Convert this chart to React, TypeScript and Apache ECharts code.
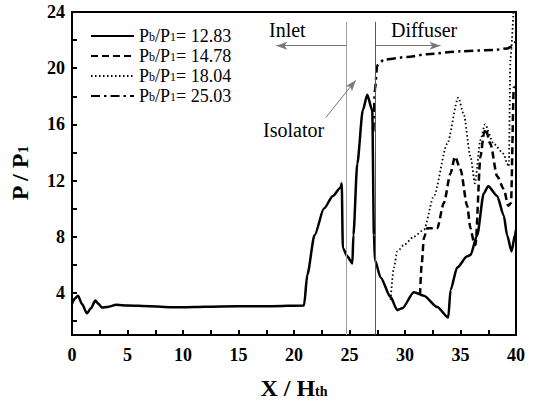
import React, { useEffect, useRef } from "react";
import * as echarts from "echarts";

const solidX = [0, 0.25, 0.54, 0.9, 1.35, 1.7, 2.1, 2.4, 2.7, 3.2, 4.0, 5, 7, 9, 10, 12, 15, 18, 20.9, 21.2, 21.85, 22.7, 23.5, 24.2, 24.3, 24.4, 24.8, 25.26, 25.35, 25.7, 26.2, 26.6, 27.05, 27.2, 27.3, 27.8, 28.7, 29.3, 29.75, 30.8, 31.7, 32.9, 33.9, 34.1, 34.7, 35.6, 35.9, 36.5, 37.1, 37.5, 38.3, 38.9, 39.2, 39.6, 39.9, 40];
const solidY = [3.2, 3.6, 3.8, 3.2, 2.55, 2.9, 3.45, 3.2, 2.95, 3.0, 3.15, 3.1, 3.05, 2.98, 2.98, 3.02, 3.05, 3.05, 3.1, 5.3, 8.1, 10.0, 10.9, 11.5, 11.8, 7.2, 6.6, 6.1, 8.1, 13.2, 17.0, 18.1, 17.0, 8.1, 6.3, 5.1, 3.7, 2.77, 2.9, 4.05, 3.8, 3.0, 2.25, 4.2, 5.8, 6.6, 6.7, 8.1, 11.1, 11.6, 10.9, 9.5, 8.1, 6.95, 8.1, 8.5];

const dashX = [31.35, 31.5, 31.7, 32.0, 32.9, 33.5, 34.1, 34.5, 35.0, 35.6, 35.9, 36.2, 36.35, 36.8, 37.1, 37.25, 37.7, 38.3, 38.9, 39.3, 39.55, 39.8, 40];
const dashY = [3.85, 6.0, 7.9, 8.6, 8.6, 10.4, 12.5, 13.7, 12.8, 10.2, 8.6, 7.65, 7.4, 13.7, 15.3, 15.7, 14.6, 12.3, 11.4, 10.2, 10.4, 18.6, 18.7];

const dotX = [28.7, 29.0, 29.3, 29.9, 30.8, 31.7, 32.6, 33.8, 34.8, 35.3, 35.9, 36.3, 36.8, 37.2, 38.0, 38.9, 39.2, 39.35, 39.5, 39.8];
const dotY = [3.5, 5.8, 6.95, 7.4, 8.0, 8.5, 10.9, 14.6, 17.9, 16.7, 13.7, 11.8, 14.9, 16.0, 14.6, 13.9, 13.2, 13.0, 20.7, 24.5];

const dashDotX = [27.15, 27.3, 27.5, 28.1, 30.2, 32, 35, 38, 39.2, 39.5, 40];
const dashDotY = [15.5, 18.5, 20.2, 20.6, 20.8, 21.0, 21.2, 21.3, 21.4, 21.5, 21.9];

const seriesNames = ["12.83", "14.78", "18.04", "25.03"];
const xTicks = [0, 2.5, 5, 7.5, 10, 12.5, 15, 17.5, 20, 22.5, 25, 27.5, 30, 32.5, 35, 37.5, 40];
const xLabels = [0, 5, 10, 15, 20, 25, 30, 35, 40];
const yTicks = [2, 4, 6, 8, 10, 12, 14, 16, 18, 20, 22, 24];
const yLabels = [4, 8, 12, 16, 20, 24];

const inletLineX = 24.75;
const isolatorLineX = 27.3;
const zoneLineTop = 23.3;
const arrowY = 21.6;
const inletArrowEnd = 18.4;
const diffuserArrowEnd = 33.2;
const isoArrowFrom = [22.87, 16.49];
const isoArrowTo = [25.56, 19.14];

const zip = (xs: number[], ys: number[]) => xs.map((x, i) => [x, ys[i]]);

const FONT = "'Liberation Serif', 'Times New Roman', serif";

export default function App() {
  const ref = useRef<HTMLDivElement>(null);
  useEffect(() => {
    if (!ref.current) return;
    const chart = echarts.init(ref.current, null, { renderer: "svg" });
    const mk = (name: string, data: number[][], type: any, width: number) => ({
      name,
      type: "line",
      data,
      symbol: "none",
      smooth: 0.25,
      smoothMonotone: "x",
      clip: true,
      lineStyle: { color: "#000", width, type },
      itemStyle: { color: "#000" },
    });
    const titleStyle = {
      fontFamily: FONT,
      fontSize: 24,
      fontWeight: "bold",
      color: "#000",
      rich: { s: { fontFamily: FONT, fontSize: 14, fontWeight: "bold", color: "#000", verticalAlign: "bottom", padding: [0, 0, 2, 0] } },
    };
    chart.setOption({
      animation: false,
      backgroundColor: "#fff",
      textStyle: { fontFamily: FONT },
      grid: {
        left: 70,
        right: 18,
        top: 12,
        bottom: 63,
        show: true,
        borderColor: "#000",
        borderWidth: 2,
        backgroundColor: "transparent",
      },
      legend: {
        orient: "vertical",
        left: 90,
        top: 27,
        padding: 0,
        itemWidth: 43,
        itemHeight: 14,
        itemGap: 2,
        data: seriesNames,
        itemStyle: { opacity: 0, borderWidth: 0 },
        formatter: (n: string) => `{n|P}{s|b}{n|/P}{s|1}{n|= ${n}}`,
        textStyle: {
          fontFamily: FONT,
          color: "#000",
          fontSize: 18,
          rich: {
            n: { fontFamily: FONT, fontSize: 18, color: "#000" },
            s: { fontFamily: FONT, fontSize: 12, color: "#000", verticalAlign: "bottom", padding: [0, 0, 2, 0] },
          },
        },
      },
      xAxis: {
        type: "value",
        min: 0,
        max: 40,
        interval: 5,
        name: "X / H{s|th}",
        nameLocation: "middle",
        nameGap: 41,
        nameTextStyle: titleStyle,
        axisLine: { show: true, lineStyle: { color: "#000", width: 2 } },
        axisTick: { show: true, inside: true, length: 5, lineStyle: { color: "#000", width: 2 }, customValues: xTicks },
        axisLabel: { fontFamily: FONT, fontSize: 18, fontWeight: "bold", color: "#000", margin: 11, customValues: xLabels },
        splitLine: { show: false },
      },
      yAxis: {
        type: "value",
        min: 1,
        max: 24,
        name: "P / P{s|1}",
        nameLocation: "middle",
        nameRotate: 90,
        nameGap: 40,
        nameTextStyle: titleStyle,
        axisLine: { show: true, lineStyle: { color: "#000", width: 2 } },
        axisTick: { show: true, inside: true, length: 5, lineStyle: { color: "#000", width: 2 }, customValues: yTicks },
        axisLabel: { fontFamily: FONT, fontSize: 18, fontWeight: "bold", color: "#000", margin: 7, customValues: yLabels },
        splitLine: { show: false },
      },
      graphic: [
        { type: "text", left: 269, top: 20, style: { text: "Inlet", fontFamily: FONT, fontSize: 20, fill: "#000" } },
        { type: "text", left: 391, top: 20, style: { text: "Diffuser", fontFamily: FONT, fontSize: 20, fill: "#000" } },
        { type: "text", left: 263, top: 120, style: { text: "Isolator", fontFamily: FONT, fontSize: 20, fill: "#000" } },
      ],
      series: [
        {
          name: "zones",
          type: "line",
          data: [],
          silent: true,
          markLine: {
            silent: true,
            animation: false,
            label: { show: false },
            symbol: "none",
            data: [
              [
                { coord: [inletLineX, 1], symbol: "none", lineStyle: { color: "#a0a0a0", width: 1, type: "solid" } },
                { coord: [inletLineX, zoneLineTop], symbol: "none" },
              ],
              [
                { coord: [isolatorLineX, 1], symbol: "none", lineStyle: { color: "#555", width: 1, type: "solid" } },
                { coord: [isolatorLineX, zoneLineTop], symbol: "none" },
              ],
              [
                { coord: [inletLineX, arrowY], symbol: "none", lineStyle: { color: "#777", width: 1, type: "solid" } },
                { coord: [inletArrowEnd, arrowY], symbol: "arrow", symbolSize: [6, 11] },
              ],
              [
                { coord: [isolatorLineX, arrowY], symbol: "none", lineStyle: { color: "#777", width: 1, type: "solid" } },
                { coord: [diffuserArrowEnd, arrowY], symbol: "arrow", symbolSize: [6, 11] },
              ],
              [
                { coord: isoArrowFrom, symbol: "none", lineStyle: { color: "#777", width: 1, type: "solid" } },
                { coord: isoArrowTo, symbol: "arrow", symbolSize: [6, 11] },
              ],
            ],
          },
        },
        mk(seriesNames[0], zip(solidX, solidY), "solid", 2.5),
        mk(seriesNames[1], zip(dashX, dashY), [7, 4], 2.5),
        mk(seriesNames[2], zip(dotX, dotY), [1.5, 2.5], 1.8),
        mk(seriesNames[3], zip(dashDotX, dashDotY), [9, 4, 2.5, 4], 2.5),
      ],
    });
    return () => chart.dispose();
  }, []);
  return <div ref={ref} style={{ position: "absolute", left: 0, top: 0, width: 534, height: 405 }} />;
}
